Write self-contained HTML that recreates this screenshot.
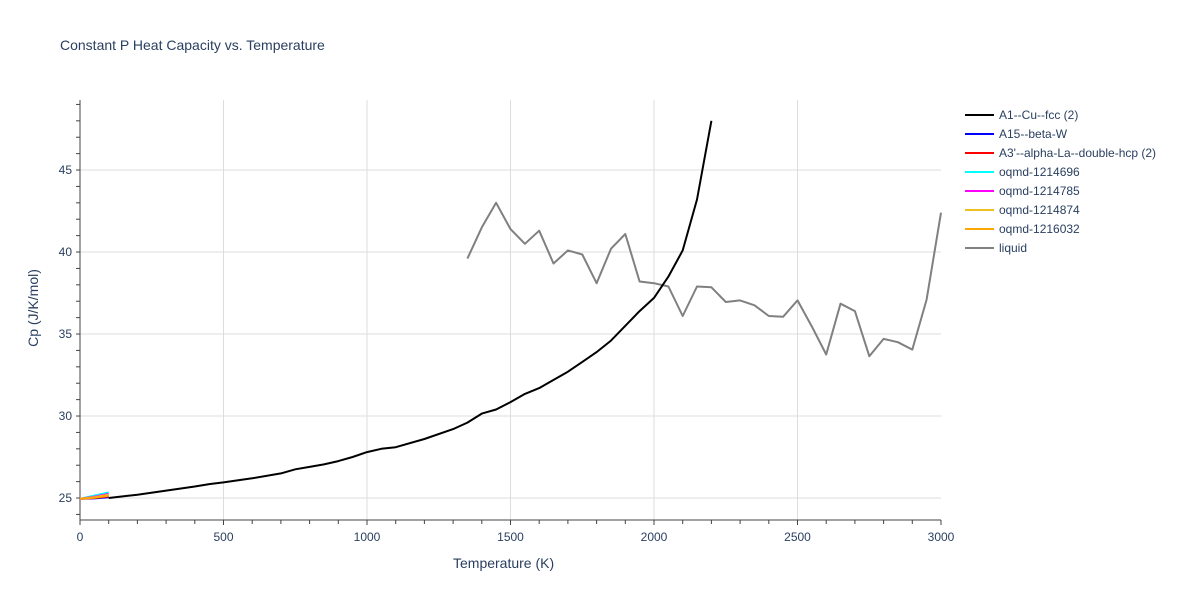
<!DOCTYPE html>
<html><head><meta charset="utf-8"><style>
html,body{margin:0;background:#fff;font-family:"Liberation Sans",Arial,sans-serif;width:1200px;height:600px;overflow:hidden;position:relative;}
svg{display:block;}
svg text{font-family:"Liberation Sans",Arial,sans-serif;fill:#2a3f5f;}
</style></head><body>
<svg id="chart" width="1200" height="600"></svg>
<script>
const cuT=[100,200,300,400,450,500,600,700,750,800,850,900,950,1000,1050,1100,1200,1300,1350,1400,1450,1500,1550,1600,1700,1750,1800,1850,1900,1950,2000,2050,2100,2150,2200];
const cuCp=[25.0,25.2,25.45,25.7,25.85,25.95,26.2,26.5,26.75,26.9,27.05,27.25,27.5,27.8,28.0,28.1,28.6,29.2,29.6,30.15,30.4,30.85,31.35,31.7,32.7,33.3,33.9,34.6,35.5,36.4,37.2,38.5,40.1,43.2,48.0];
const liqT=[1350,1400,1450,1500,1550,1600,1650,1700,1750,1800,1850,1900,1950,2000,2050,2100,2150,2200,2250,2300,2350,2400,2450,2500,2550,2600,2650,2700,2750,2800,2850,2900,2950,3000];
const liqCp=[39.6,41.5,43.0,41.4,40.5,41.3,39.3,40.1,39.85,38.1,40.2,41.1,38.2,38.1,37.9,36.1,37.9,37.85,36.95,37.05,36.75,36.1,36.05,37.05,35.45,33.75,36.85,36.4,33.65,34.7,34.5,34.05,37.1,42.4];
const smallT=[0,50,100];
const blueCp=[24.95,24.98,25.05];
const redCp=[24.95,25.0,25.1];
const cyanCp=[24.95,25.15,25.35];
const magentaCp=[24.95,25.08,25.25];
const yellowCp=[24.95,25.05,25.2];
const orangeCp=[24.95,25.02,25.15];
const xTicks=[0,500,1000,1500,2000,2500,3000];
const yTicks=[25,30,35,40,45];

const L=80,R=941,T=100,B=520;
const xMin=0,xMax=3000,yMin=23.66,yMax=49.27;
const xs=v=>L+(v-xMin)/(xMax-xMin)*(R-L);
const ys=v=>B-(v-yMin)/(yMax-yMin)*(B-T);
const svg=document.getElementById('chart');
const NS='http://www.w3.org/2000/svg';
function mk(tag,attrs,parent){const e=document.createElementNS(NS,tag);for(const k in attrs)e.setAttribute(k,attrs[k]);(parent||svg).appendChild(e);return e;}

const grid=mk('g',{});


xTicks.forEach(t=>{ if(t>0&&t<3000) mk('line',{x1:xs(t),x2:xs(t),y1:T,y2:B,stroke:'#ddd','stroke-width':1},grid);
 const lb=mk('text',{x:xs(t),y:541,'text-anchor':'middle','font-size':12});lb.textContent=t;
 
 });
for(let t=0;t<=3000;t+=100){mk('line',{x1:xs(t),x2:xs(t),y1:B,y2:B+(t%500?4:5),stroke:'#444','stroke-width':1},grid);}
yTicks.forEach(t=>{ mk('line',{x1:L,x2:R,y1:ys(t),y2:ys(t),stroke:'#ddd','stroke-width':1},grid);
 const lb=mk('text',{x:L-8,y:ys(t)+4,'text-anchor':'end','font-size':12});lb.textContent=t;
 
 });
for(let t=24;t<=49;t++){mk('line',{x1:L-4,x2:L,y1:ys(t),y2:ys(t),stroke:'#444','stroke-width':1},grid);}
mk('line',{x1:L,x2:L,y1:T,y2:B,stroke:'#444','stroke-width':1},grid);
mk('line',{x1:L,x2:R,y1:B,y2:B,stroke:'#444','stroke-width':1},grid);

function line(xa,ya,color,name){const d=xa.map((x,i)=>(i?'L':'M')+xs(x).toFixed(1)+','+ys(ya[i]).toFixed(1)).join('');
 const p=mk('path',{d:d,fill:'none',stroke:color,'stroke-width':2,'stroke-linejoin':'round'});
 
 }
line(liqT,liqCp,'#808080','liquid-line');
line(smallT,blueCp,'#0000ff','a15-line');
line(smallT,redCp,'#ff0000','a3-line');
line(smallT,cyanCp,'#00ffff','oqmd-1214696-line');
line(smallT,magentaCp,'#ff00ff','oqmd-1214785-line');
line(smallT,yellowCp,'#f0c020','oqmd-1214874-line');
line(smallT,orangeCp,'#ffa500','oqmd-1216032-line');
line(cuT,cuCp,'#000000','cu-fcc-line');

const legendItems=[['A1--Cu--fcc (2)','#000'],['A15--beta-W','#0000ff'],["A3'--alpha-La--double-hcp (2)",'#ff0000'],['oqmd-1214696','#00ffff'],['oqmd-1214785','#ff00ff'],['oqmd-1214874','#f0c020'],['oqmd-1216032','#ffa500'],['liquid','#808080']];
const lg=mk('g',{});


legendItems.forEach((it,i)=>{const y=115+i*19;
 mk('line',{x1:965,x2:994,y1:y,y2:y,stroke:it[1],'stroke-width':2},lg);
 const t=mk('text',{x:999,y:y+4,'font-size':12},lg);t.textContent=it[0];
 
 });
</script>
<div style="position:absolute;left:60px;top:37px;font-size:14px;color:#2a3f5f">Constant P Heat Capacity vs. Temperature</div>
<div style="position:absolute;left:453px;top:555px;font-size:14px;color:#2a3f5f">Temperature (K)</div>
<div style="position:absolute;left:-27px;top:300px;font-size:14px;color:#2a3f5f;transform:rotate(-90deg);width:120px;text-align:center">Cp (J/K/mol)</div>
</body></html>
